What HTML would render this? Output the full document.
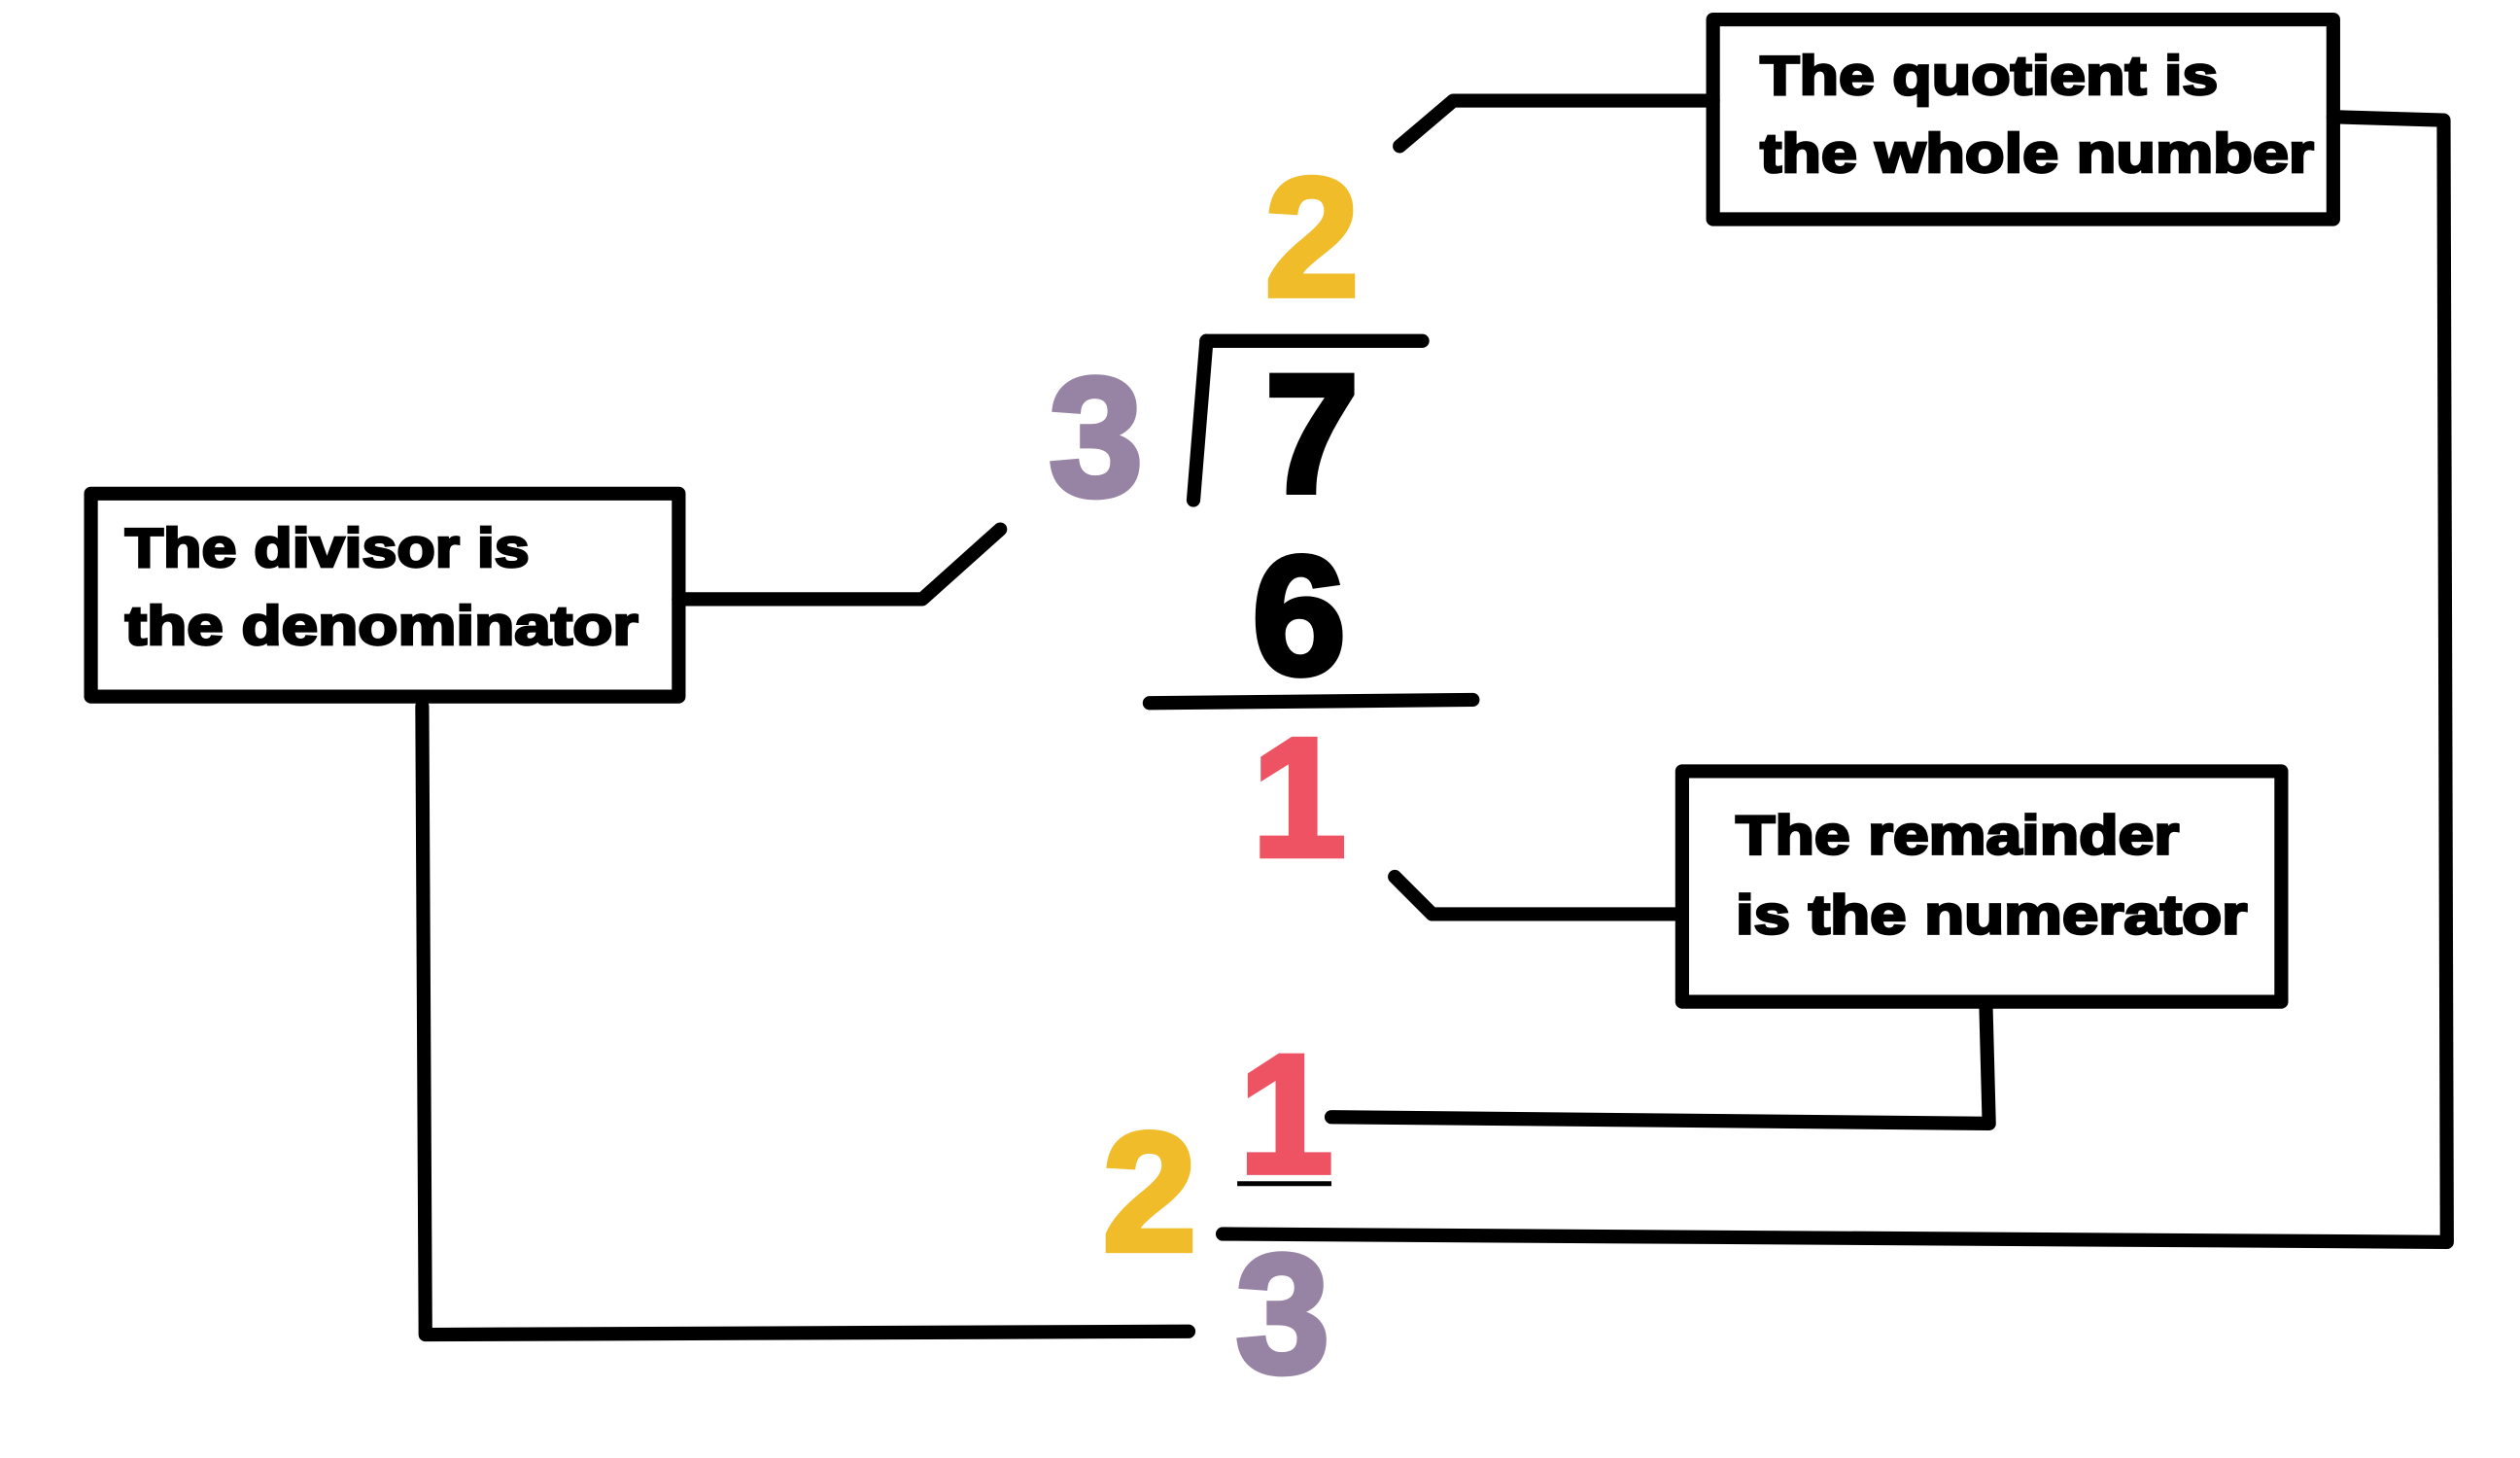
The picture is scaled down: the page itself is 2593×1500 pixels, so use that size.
<!DOCTYPE html>
<html><head><style>html,body{margin:0;padding:0;background:#fff;overflow:hidden}</style></head>
<body>
<svg width="2593" height="1495" viewBox="0 0 1552 895" preserveAspectRatio="none" xmlns="http://www.w3.org/2000/svg">
<rect width="1552" height="895" fill="#fff"/>
<g fill="none" stroke="#000" stroke-width="8.5" stroke-linecap="round" stroke-linejoin="round">
<rect x="1055" y="12" width="382" height="123"/>
<rect x="56" y="304" width="362" height="125"/>
<rect x="1036" y="475" width="369" height="142"/>
<polyline points="862,90 895,62 1055,62"/>
<polyline points="1437,72 1505,74 1507,765 753,760"/>
<polyline points="743,210 876,210"/>
<polyline points="743,210 735,308"/>
<polyline points="418,369 568,369 616,326"/>
<polyline points="708,433 907,431"/>
<polyline points="859,540 882,563 1036,563"/>
<polyline points="1223,617 1225,692 820,688"/>
<polyline points="260,435 262,822 732,820"/>
</g>
<line x1="762" y1="729" x2="820" y2="729" stroke="#000" stroke-width="3"/>
<g font-family="Liberation Sans, Arial, sans-serif" font-weight="bold" font-size="34" fill="#000" stroke="#000" stroke-width="1.6">
<text x="1084" y="58" textLength="282" lengthAdjust="spacingAndGlyphs">The quotient is</text>
<text x="1084" y="106" textLength="341" lengthAdjust="spacingAndGlyphs">the whole number</text>
<text x="77" y="349" textLength="249" lengthAdjust="spacingAndGlyphs">The divisor is</text>
<text x="77" y="397" textLength="316" lengthAdjust="spacingAndGlyphs">the denominator</text>
<text x="1069" y="526" textLength="273" lengthAdjust="spacingAndGlyphs">The remainder</text>
<text x="1069" y="575" textLength="315" lengthAdjust="spacingAndGlyphs">is the numerator</text>
</g>
<g font-family="Liberation Sans, Arial, sans-serif" font-weight="bold" font-size="104" text-anchor="middle">
<text x="808" y="182" fill="#F0BC2A" stroke="#F0BC2A" stroke-width="3.5">2</text>
<text x="675" y="305" fill="#9783A3" stroke="#9783A3" stroke-width="3.5">3</text>
<text x="808" y="303" fill="#000" stroke="#000" stroke-width="3.5">7</text>
<text x="800" y="415" fill="#000" stroke="#000" stroke-width="3.5">6</text>
<text x="800" y="527" fill="#EE5363" stroke="#EE5363" stroke-width="3.5">1</text>
<text x="792" y="722" fill="#EE5363" stroke="#EE5363" stroke-width="3.5">1</text>
<text x="708" y="770" fill="#F0BC2A" stroke="#F0BC2A" stroke-width="3.5">2</text>
<text x="790" y="845" fill="#9783A3" stroke="#9783A3" stroke-width="3.5">3</text>
</g>
</svg>
</body></html>
